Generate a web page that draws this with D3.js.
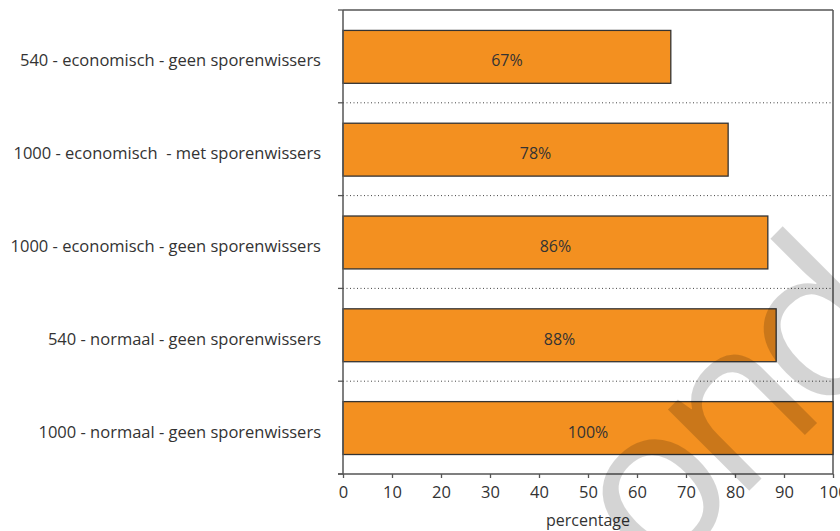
<!DOCTYPE html>
<html>
<head>
<meta charset="utf-8">
<script src="https://cdn.jsdelivr.net/npm/d3@7"></script>
<style>
  body { margin: 0; background: #fff; }
  text { font-family: "Open Sans", sans-serif; fill: #333; }
</style>
</head>
<body>
<div id="chart"></div>
<script>
// data
const categories = [
  "540 - economisch - geen sporenwissers",
  "1000 - economisch  - met sporenwissers",
  "1000 - economisch - geen sporenwissers",
  "540 - normaal - geen sporenwissers",
  "1000 - normaal - geen sporenwissers"
]
const values = [66.9, 78.6, 86.7, 88.4, 100]
const valueLabels = ["67%", "78%", "86%", "88%", "100%"]
const xTicks = [0, 10, 20, 30, 40, 50, 60, 70, 80, 90, 100]

// dimensions
const W = 840, H = 531
const margin = {top: 10, right: 7, bottom: 57, left: 343}
const width = W - margin.left - margin.right
const height = H - margin.top - margin.bottom

const svg = d3.select("#chart").append("svg")
    .attr("width", W)
    .attr("height", H)

const g = svg.append("g")
    .attr("transform", "translate(" + margin.left + "," + margin.top + ")")

// scales
const x = d3.scaleLinear().domain([0, 100]).range([0, width])
const y = d3.scaleBand().domain(categories).range([0, height]).padding(0)
const barOff = y.bandwidth() * 0.22
const barH = y.bandwidth() * 0.57

// dotted separators between the bands
g.selectAll(".sep")
  .data(categories.slice(1))
  .enter().append("line")
    .attr("x1", 0).attr("x2", width)
    .attr("y1", d => y(d)).attr("y2", d => y(d))
    .attr("stroke", "#444")
    .attr("stroke-width", 1)
    .attr("stroke-dasharray", "1,2.5")

// frame top + right
g.append("line").attr("x1", 0).attr("x2", width).attr("y1", 0).attr("y2", 0)
  .attr("stroke", "#555").attr("stroke-width", 1.5)
g.append("line").attr("x1", width).attr("x2", width).attr("y1", 0).attr("y2", height)
  .attr("stroke", "#555").attr("stroke-width", 1.5)

// bars
g.selectAll(".bar")
  .data(values)
  .enter().append("rect")
    .attr("x", 0)
    .attr("y", (d, i) => y(categories[i]) + barOff)
    .attr("width", d => x(d))
    .attr("height", barH)
    .attr("fill", "#F39020")
    .attr("stroke", "#333")
    .attr("stroke-width", 1.3)

g.selectAll(".vlab")
  .data(values)
  .enter().append("text")
    .attr("x", d => x(d) / 2)
    .attr("y", (d, i) => y(categories[i]) + barOff + barH / 2)
    .attr("dy", "0.6em")
    .attr("text-anchor", "middle")
    .style("font-size", "16px")
    .text((d, i) => valueLabels[i])

// watermark
svg.append("text")
    .attr("transform", "translate(778,462) rotate(-45)")
    .attr("text-anchor", "middle")
    .style("font-size", "215px")
    .style("letter-spacing", "-16px")
    .style("fill", "#000")
    .style("fill-opacity", 0.17)
    .text("ond")

// x axis
const xAxis = g.append("g")
    .attr("transform", "translate(0," + height + ")")
    .call(d3.axisBottom(x).tickValues(xTicks).tickSize(4).tickPadding(8).tickSizeOuter(0))
xAxis.select(".domain").attr("stroke", "#555").attr("stroke-width", 1.5)
  .attr("d", "M-5,0H" + width)
xAxis.selectAll(".tick line").attr("stroke", "#555").attr("stroke-width", 1.3)
xAxis.selectAll(".tick text").style("font-size", "16.5px").attr("fill", "#333")

// y axis: line with ticks at band edges
g.append("line").attr("x1", 0).attr("x2", 0).attr("y1", 0).attr("y2", height)
  .attr("stroke", "#555").attr("stroke-width", 1.5)
const edges = categories.map(c => y(c)).concat([height])
g.selectAll(".ytick")
  .data(edges)
  .enter().append("line")
    .attr("x1", -5).attr("x2", 0)
    .attr("y1", d => d).attr("y2", d => d)
    .attr("stroke", "#555").attr("stroke-width", 1.3)

g.selectAll(".ylab")
  .data(categories)
  .enter().append("text")
    .attr("x", -22)
    .attr("y", d => y(d) + y.bandwidth() / 2)
    .attr("dy", "0.6em")
    .attr("text-anchor", "end")
    .style("font-size", "16.5px")
    .style("white-space", "pre")
    .text(d => d)

// axis title
g.append("text")
    .attr("x", width / 2)
    .attr("y", height + 52)
    .attr("text-anchor", "middle")
    .style("font-size", "16px")
    .text("percentage")
</script>
</body>
</html>
